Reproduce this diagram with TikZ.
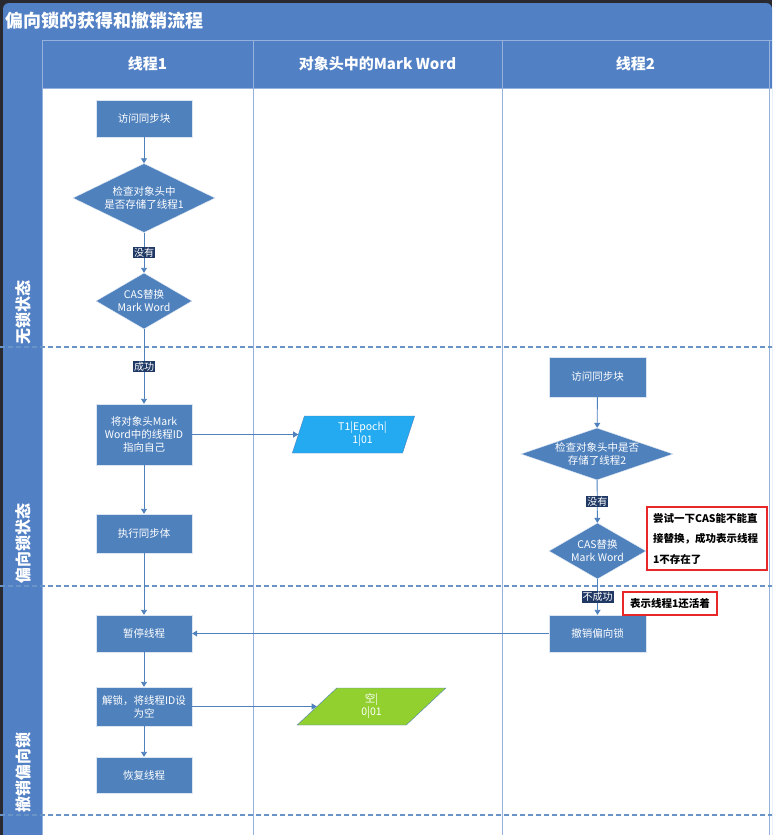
\documentclass[tikz,border=0pt]{standalone}
\usepackage{fontspec}
\setmainfont{Noto Sans CJK SC}
\usetikzlibrary{shapes.geometric,arrows.meta}
\definecolor{panelblue}{RGB}{82,128,196}
\definecolor{boxblue}{RGB}{79,129,189}
\definecolor{tagnavy}{RGB}{31,56,100}
\definecolor{skyfill}{RGB}{35,170,240}
\definecolor{limefill}{RGB}{146,208,48}
\definecolor{notered}{RGB}{232,40,40}
\definecolor{gridline}{RGB}{150,178,220}
\definecolor{framedark}{RGB}{40,42,48}

\begin{document}
\begin{tikzpicture}[x=1pt,y=-1pt,
  box/.style={rectangle,fill=boxblue,draw=white!80!boxblue,text=white,font=\fontsize{10.5}{13}\selectfont,align=center,minimum width=96pt,inner sep=1pt},
  cond/.style={diamond,fill=boxblue,draw=white!80!boxblue,text=white,font=\fontsize{10.5}{13}\selectfont,align=center,inner sep=-2pt},
  datum/.style={trapezium,trapezium stretches=true,draw=boxblue,text=white,font=\fontsize{10.5}{13}\selectfont,align=center},
  tag/.style={fill=tagnavy,text=white,inner sep=1pt,font=\fontsize{10}{12}\selectfont},
  note/.style={draw=notered,line width=2.5pt,fill=white,text=black,font=\bfseries\fontsize{10.5}{20.5}\selectfont,align=left},
  lane/.style={rotate=90,anchor=west,text=white,font=\bfseries\fontsize{16}{18}\selectfont,inner sep=0pt},
  head/.style={text=white,font=\bfseries\fontsize{15}{18}\selectfont},
  flow/.style={draw=boxblue,line width=0.9pt,-{Triangle[width=6pt,length=5pt]}},
  split/.style={draw=boxblue!85!white,line width=2pt,dash pattern=on 5pt off 3pt}]
\useasboundingbox (0,0) rectangle (772,835);
\fill[framedark] (0,0) rectangle (772,835);
\fill[panelblue,rounded corners=6pt] (3,3) rectangle (772,845);
\fill[white] (42,88) rectangle (772,835);
\draw[gridline] (42,40)--(772,40) (42,88)--(772,88);
\draw[gridline] (42,40)--(42,835) (253,40)--(253,835) (502,40)--(502,835) (769,40)--(769,835);
\draw[split] (0,347)--(772,347);
\draw[split] (0,586)--(772,586);
\draw[split] (0,815)--(772,815);

\node[anchor=west,text=white,font=\bfseries\fontsize{18}{20}\selectfont,inner sep=0pt] (title) at (5,21) {偏向锁的获得和撤销流程};
\node[head] (h1) at (147.5,64) {线程1};
\node[head] (h2) at (377.5,64) {对象头中的Mark Word};
\node[head] (h3) at (635.5,64) {线程2};
\node[lane] (l1) at (23,345) {无锁状态};
\node[lane] (l2) at (23,584) {偏向锁状态};
\node[lane] (l3) at (23,813) {撤销偏向锁};

\node[box,minimum height=37pt] (a1) at (144,118.5) {访问同步块};
\node[cond,aspect=2.06,minimum width=142pt,minimum height=69pt] (d1) at (144,198) {检查对象头中\\是否存储了线程1};
\node[cond,aspect=1.71,minimum width=96pt,minimum height=56pt] (c1) at (144,301) {CAS替换\\Mark Word};
\node[box,minimum height=61pt] (s1) at (144,434.5) {将对象头Mark\\Word中的线程ID\\指向自己};
\node[box,minimum height=39pt] (e1) at (144,533.5) {执行同步体};
\node[box,minimum height=37pt] (p1) at (144,633.5) {暂停线程};
\node[box,minimum height=39pt] (u1) at (144,706.5) {解锁，将线程ID设\\为空};
\node[box,minimum height=36pt] (r1) at (144,775) {恢复线程};

\node[datum,fill=skyfill,trapezium left angle=74,trapezium right angle=106,minimum width=123pt,minimum height=37pt] (t1) at (353.5,434.5) {\hspace*{18pt}T1|Epoch|\\\hspace*{18pt}1|01};
\node[datum,fill=limefill,trapezium left angle=64,trapezium right angle=116,minimum width=149pt,minimum height=37pt] (g1) at (371.5,706.5) {空|\\0|01};

\node[box,minimum width=97pt,minimum height=40pt] (a2) at (597.5,377) {访问同步块};
\node[cond,aspect=2.92,minimum width=152pt,minimum height=52pt] (d2) at (597,454) {检查对象头中是否\\存储了线程2};
\node[cond,aspect=1.73,minimum width=97pt,minimum height=56pt] (c2) at (597.5,551) {CAS替换\\Mark Word};
\node[box,minimum width=97pt,minimum height=37pt] (v2) at (597.5,633.5) {撤销偏向锁};

\node[note,minimum width=120pt,minimum height=63pt,text width=108pt,inner sep=3pt] (n1) at (707,538.5) {尝试一下CAS能不能直\\接替换，成功表示线程\\1不存在了};
\node[note,minimum width=94pt,minimum height=23pt,inner sep=2pt] (n2) at (670,603.5) {表示线程1还活着};

\draw[flow] (a1)--(d1);
\draw[flow] (d1)--node[tag] {没有} (c1);
\draw[flow] (c1)--node[tag] {成功} (s1);
\draw[flow] (s1)--(e1);
\draw[flow] (e1)--(p1);
\draw[flow] (p1)--(u1);
\draw[flow] (u1)--(r1);
\draw[flow] (s1)--(t1);
\draw[flow] (u1)--(g1);
\draw[flow] (a2)--(d2);
\draw[flow] (d2)--node[tag] {没有} (c2);
\draw[flow] (c2)--node[tag] {不成功} (v2);
\draw[flow] (v2)--(p1);
\end{tikzpicture}
\end{document}
